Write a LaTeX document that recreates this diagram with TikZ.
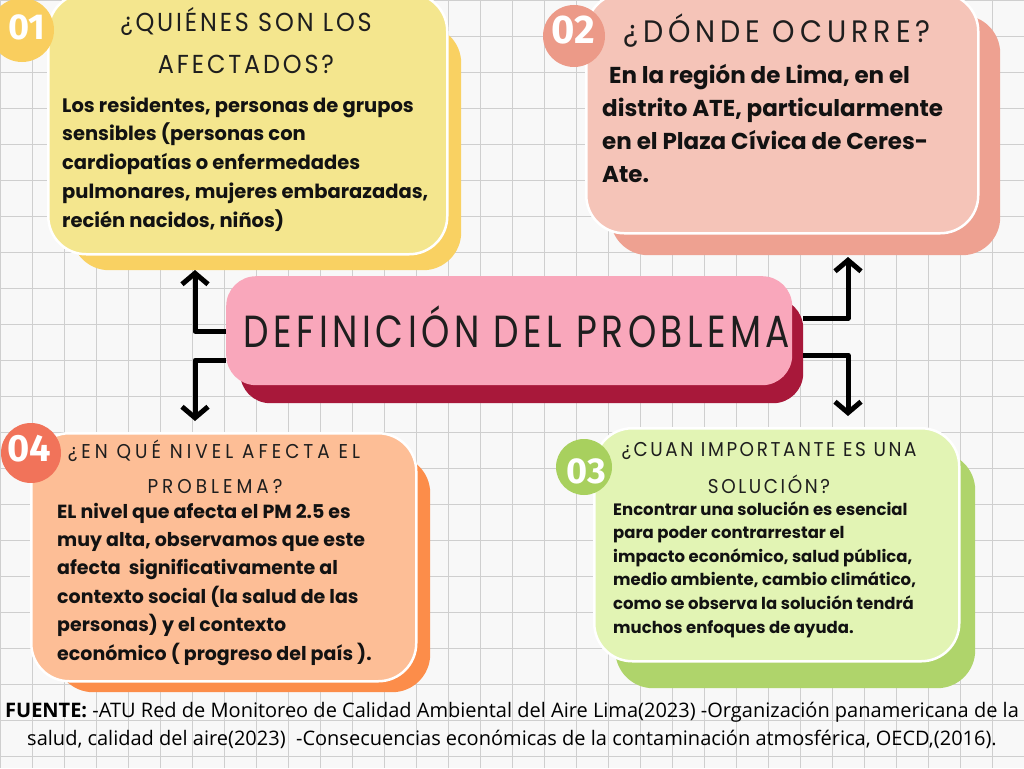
\documentclass[tikz,border=0pt]{standalone}
\usepackage{fontspec}
\setmainfont{Poppins}
\newfontfamily\headfontA[FakeStretch=0.92,LetterSpace=11]{Poppins}
\newfontfamily\headfontB[FakeStretch=0.92,LetterSpace=16]{Poppins}
\newfontfamily\headfontC[FakeStretch=0.92,LetterSpace=20]{Poppins}
\newfontfamily\headfontD[FakeStretch=0.92,LetterSpace=13]{Poppins}
\newfontfamily\titlefont[FakeStretch=0.8,LetterSpace=10]{Poppins}
\newfontfamily\numfont{Fira Sans}
\newfontfamily\footfont{Open Sans}
\usetikzlibrary{arrows.meta}
\definecolor{bgc}{HTML}{F8F8F8}
\definecolor{gridc}{HTML}{CFCFCF}
\definecolor{c1f}{HTML}{F4E68E}
\definecolor{c1s}{HTML}{F9D162}
\definecolor{c1n}{HTML}{F9CE5E}
\definecolor{c2f}{HTML}{F5C4B8}
\definecolor{c2s}{HTML}{EEA191}
\definecolor{c2n}{HTML}{EC9A88}
\definecolor{ccf}{HTML}{F9A7BB}
\definecolor{ccs}{HTML}{A8183A}
\definecolor{c4f}{HTML}{FDBE96}
\definecolor{c4s}{HTML}{FC8D4A}
\definecolor{c4n}{HTML}{F1735A}
\definecolor{c3f}{HTML}{E2F4B4}
\definecolor{c3s}{HTML}{AFD46B}
\definecolor{c3n}{HTML}{A8D05E}
\definecolor{headc}{HTML}{1E1E1E}
\definecolor{bodyc}{HTML}{121212}
\begin{document}
\begin{tikzpicture}[x=1pt,y=-1pt,
  grid/.style={draw=gridc, line width=0.6pt},
  cardf/.style={rectangle, rounded corners=38pt, inner sep=0pt, anchor=north west, draw=white, line width=2.5pt},
  cards/.style={rectangle, rounded corners=38pt, inner sep=0pt, anchor=north west},
  numc/.style={circle, inner sep=0pt},
  numt/.style={text=white, inner sep=0pt},
  head/.style={anchor=base, inner sep=0pt, text=headc},
  body/.style={anchor=base west, inner sep=0pt, text=bodyc},
  arr/.style={line width=5pt, line cap=butt, line join=round, -{Straight Barb[length=11pt,width=26pt]}}
]
\useasboundingbox (0,0) rectangle (1024,768);
\clip (0,0) rectangle (1024,768);
\fill[bgc] (0,0) rectangle (1024,768);
\foreach \x in {0,32,...,1024} \draw[grid] (\x,0) -- (\x,768);
\foreach \y in {0,36,...,756} \draw[grid] (0,\y) -- (1024,\y);

% card 1
\node[cards, fill=c1s, minimum width=390pt, minimum height=245pt] (s1) at (71,25) {};
\node[cardf, fill=c1f, minimum width=399pt, minimum height=261pt] (f1) at (47,-8) {};
\node[numc, fill=c1n, minimum size=64pt] (n1) at (22,30) {};
\node[numt, font=\numfont\bfseries\fontsize{36}{36}\selectfont] (t1) at (27,27) {01};
\node[head, font=\headfontA\fontsize{26}{26}\selectfont] (h1a) at (246,32) {¿QUIÉNES SON LOS};
\node[head, font=\headfontA\fontsize{26}{26}\selectfont] (h1b) at (246,73) {AFECTADOS?};
\node[body] (b1) at (62,112) {\parbox[t]{385pt}{\raggedright\fontsize{19.5}{28.75}\selectfont\bfseries
Los residentes, personas de grupos\\
sensibles (personas con\\
cardiopatías o enfermedades\\
pulmonares, mujeres embarazadas,\\
recién nacidos, niños)}};

% card 2
\node[cards, fill=c2s, minimum width=390pt, minimum height=240pt] (s2) at (610,15) {};
\node[cardf, fill=c2f, minimum width=392pt, minimum height=240pt] (f2) at (585,-8) {};
\node[numc, fill=c2n, minimum size=62pt] (n2) at (574,36) {};
\node[numt, font=\numfont\bfseries\fontsize{40}{40}\selectfont] (t2) at (573,30) {02};
\node[head, font=\headfontB\fontsize{31}{31}\selectfont] (h2) at (777,43) {¿DÓNDE OCURRE?};
\node[body] (b2) at (602,83) {\parbox[t]{400pt}{\raggedright\fontsize{23}{33}\selectfont\bfseries
\hspace{0.3em}En la región de Lima, en el\\
distrito ATE, particularmente\\
en el Plaza Cívica de Ceres-\\
Ate.}};

% card 4
\node[cards, fill=c4s, minimum width=375pt, minimum height=237pt] (s4) at (55,455) {};
\node[cardf, fill=c4f, minimum width=385pt, minimum height=248pt] (f4) at (30,432) {};
\node[numc, fill=c4n, minimum size=60pt] (n4) at (31,453) {};
\node[numt, font=\numfont\bfseries\fontsize{38}{38}\selectfont] (t4) at (29,449) {04};
\node[head, font=\headfontC\fontsize{20}{20}\selectfont] (h4a) at (214,458) {¿EN QUÉ NIVEL AFECTA EL};
\node[head, font=\headfontC\fontsize{20}{20}\selectfont] (h4b) at (215,493) {PROBLEMA?};
\node[body] (b4) at (57,518) {\parbox[t]{360pt}{\raggedright\fontsize{19}{28.4}\selectfont\bfseries
EL nivel que afecta el PM 2.5 es\\
muy alta, observamos que este\\
afecta\ \ significativamente al\\
contexto social (la salud de las\\
personas) y el contexto\\
económico ( progreso del país ).}};

% card 3
\node[cards, fill=c3s, minimum width=360pt, minimum height=236pt] (s3) at (615,452) {};
\node[cardf, fill=c3f, minimum width=365pt, minimum height=233pt] (f3) at (593,427) {};
\node[numc, fill=c3n, minimum size=56pt] (n3) at (584,467) {};
\node[numt, font=\numfont\bfseries\fontsize{36}{36}\selectfont] (t3) at (586,471) {03};
\node[head, font=\headfontD\fontsize{20}{20}\selectfont] (h3a) at (769,456) {¿CUAN IMPORTANTE ES UNA};
\node[head, font=\headfontD\fontsize{20}{20}\selectfont] (h3b) at (769,493) {SOLUCIÓN?};
\node[body] (b3) at (613,515) {\parbox[t]{340pt}{\raggedright\fontsize{16.5}{23.6}\selectfont\bfseries
Encontrar una solución es esencial\\
para poder contrarrestar el\\
impacto económico, salud pública,\\
medio ambiente, cambio climático,\\
como se observa la solución tendrá\\
muchos enfoques de ayuda.}};

% center
\node[cards, rounded corners=30pt, fill=ccs, minimum width=563pt, minimum height=105pt] (cs) at (240,298) {};
\node[cards, rounded corners=30pt, fill=ccf, minimum width=566pt, minimum height=109pt] (cf) at (226,276) {};
\node[head, font=\titlefont\fontsize{45}{45}\selectfont] (title) at (517,347) {DEFINICIÓN DEL PROBLEMA};

% arrows
\coordinate (lt) at (195,270);
\coordinate (lb) at (195,421);
\coordinate (rt) at (848,257);
\coordinate (rb) at (848,416);
\draw[arr] ([yshift=-0.5pt]cf.west) -| (lt);
\draw[arr] ([yshift=-29.5pt]cf.west) -| (lb);
\draw[arr] ([yshift=32.5pt]cs.east) -| (rt);
\draw[arr] ([yshift=-4.5pt]cs.east) -| (rb);

% footer
\node[anchor=base, inner sep=0pt, text=black, font=\footfont\fontsize{20}{24}\selectfont] (ft1) at (512,717) {\textbf{FUENTE:} -ATU Red de Monitoreo de Calidad Ambiental del Aire Lima(2023) -Organización panamericana de la};
\node[anchor=base, inner sep=0pt, text=black, font=\footfont\fontsize{20}{24}\selectfont] (ft2) at (512,745) {salud, calidad del aire(2023)\ \ -Consecuencias económicas de la contaminación atmosférica, OECD,(2016).};
\end{tikzpicture}
\end{document}
